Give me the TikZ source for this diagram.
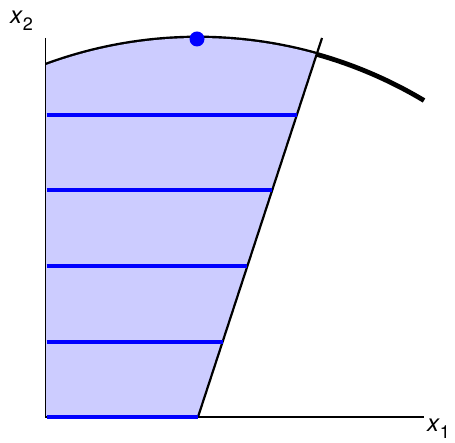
\documentclass[tikz,border=0pt]{standalone}
\usepackage{fontspec}
\setmainfont{TeX Gyre Heros}
\usetikzlibrary{calc}
\definecolor{regfill}{RGB}{204,204,255}
\tikzset{
  axisline/.style={black,line width=1.6pt},
  boundline/.style={black,line width=2.2pt},
  circline/.style={black,line width=4.8pt},
  levelline/.style={blue,line width=4.2pt},
  lbl/.style={inner sep=0pt,anchor=base west,font=\fontsize{24}{26}\selectfont}
}
\newcommand{\varsub}[2]{\textit{#1}\raisebox{-0.27em}{\fontsize{18}{20}\selectfont #2}}
\begin{document}
\begin{tikzpicture}[x=1pt,y=1pt]
\useasboundingbox (0,0) rectangle (455,443);
% key points
\coordinate (O) at (45.5,26);
\coordinate (Ytop) at (45.5,405);
\coordinate (Xend) at (424,26);
\coordinate (C) at (198,-35);
\coordinate (Lb) at (198,26);
\coordinate (Lt) at (322,405);
\coordinate (Ps) at ($(C)+(110.2:440)$);
\coordinate (Pi) at ($(C)+(74.35:440)$);
\coordinate (Pe) at ($(C)+(59.09:440)$);
% thick circle arc
\draw[circline] (Ps) arc[start angle=110.2,end angle=59.09,radius=440];
% feasible region
\fill[regfill] (O) -- (Lb) -- (Pi) arc[start angle=74.35,end angle=110.2,radius=440] -- cycle;
% constraint line
\draw[boundline] (Lb) -- (Lt);
% axes
\draw[axisline] (Ytop) -- (O) -- (Xend);
% level lines
\foreach \yy/\xx [count=\i] in {328/296.8,253/272.3,177/247.4,101/222.5,26/198}{
  \coordinate (La\i) at (46.5,\yy);
  \coordinate (Lz\i) at (\xx,\yy);
  \draw[levelline] (La\i) -- (Lz\i);
}
% optimum dot
\fill[blue] (197,404) circle[radius=7.5];
% labels
\node[lbl] (lx2) at (10,419) {\varsub{x}{2}};
\node[lbl] (lx1) at (427,11) {\varsub{x}{1}};
\end{tikzpicture}
\end{document}
